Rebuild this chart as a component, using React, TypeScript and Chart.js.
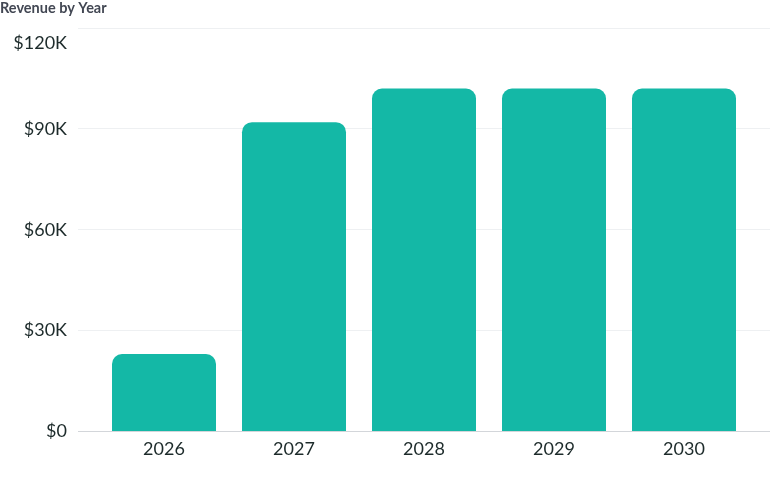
import { useEffect, useRef } from "react";
import { Chart, registerables } from "chart.js";

Chart.register(...registerables);

const years = ["2026", "2027", "2028", "2029", "2030"];
const revenue = [23000, 92000, 102000, 102000, 102000];
const yTicks = [0, 30000, 60000, 90000, 120000];

const FONT = "Lato, 'Open Sans', sans-serif";
const TEXT = "#1d2b2b";

const formatMoney = (v: number) => (v === 0 ? "$0" : `$${v / 1000}K`);

const RevenueChart = () => {
  const chartRef = useRef<HTMLCanvasElement>(null);

  useEffect(() => {
    if (!chartRef.current) return;
    const ctx = chartRef.current.getContext("2d");
    if (!ctx) return;

    const gridColor = (c: any) => (c.tick && c.tick.value === 0 ? "#d3d6da" : "#eef0f2");

    const chart = new Chart(ctx, {
      type: "bar",
      data: {
        labels: years,
        datasets: [
          {
            label: "Revenue",
            data: revenue,
            backgroundColor: "#14b8a6",
            borderRadius: 10,
            borderSkipped: "start",
            barPercentage: 0.8,
            categoryPercentage: 1,
          },
        ],
      },
      options: {
        animation: false,
        responsive: true,
        maintainAspectRatio: false,
        layout: { padding: { left: 0, right: 0, top: 0, bottom: 10 } },
        plugins: {
          legend: { display: false },
          tooltip: { enabled: false },
          title: {
            display: true,
            text: "Revenue by Year",
            align: "start",
            color: "#424753",
            font: { family: FONT, size: 14.5, weight: "bold" },
            padding: { top: 0, bottom: 10.6 },
          },
        },
        scales: {
          x: {
            grid: { display: false, drawTicks: false },
            border: { display: false },
            ticks: {
              color: TEXT,
              font: { family: FONT, size: 18 },
              padding: 7,
            },
          },
          y: {
            min: 0,
            max: 120000,
            afterBuildTicks: (scale: any) => {
              scale.ticks = yTicks.map((v) => ({ value: v }));
            },
            afterFit: (scale: any) => {
              scale.width = 99;
              scale.paddingTop = 0;
              scale.paddingBottom = 0;
            },
            border: { display: false },
            grid: {
              color: gridColor,
              drawTicks: true,
              tickLength: 21,
              lineWidth: 1,
            },
            ticks: {
              color: TEXT,
              font: { family: FONT, size: 18, lineHeight: 0.85 },
              padding: 11,
              callback: (v: any) => {
                const n = Number(v);
                // top label sits a line below its gridline
                return n === 120000 ? ["", "", formatMoney(n)] : formatMoney(n);
              },
            },
          },
          y2: {
            position: "right",
            min: 0,
            max: 120000,
            afterBuildTicks: (scale: any) => {
              scale.ticks = yTicks.map((v) => ({ value: v }));
            },
            afterFit: (scale: any) => {
              scale.width = 21;
              scale.paddingTop = 0;
              scale.paddingBottom = 0;
            },
            border: { display: false },
            grid: {
              color: gridColor,
              drawOnChartArea: false,
              drawTicks: true,
              tickLength: 21,
            },
            ticks: { display: false },
          },
        },
      },
    });

    return () => chart.destroy();
  }, []);

  return <canvas ref={chartRef}></canvas>;
};

export default function App() {
  useEffect(() => {
    document.body.style.margin = "0";
  }, []);
  return (
    <div style={{ width: 770, height: 477, position: "relative", background: "#fff" }}>
      <RevenueChart />
    </div>
  );
}
